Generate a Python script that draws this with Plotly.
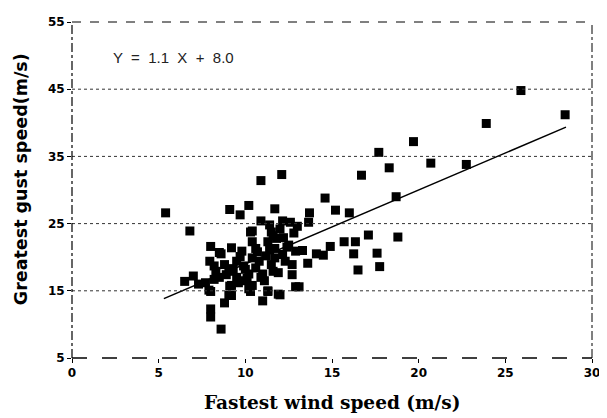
import plotly.graph_objects as go

# Scatter data (fastest wind speed, greatest gust speed)
fastest = [5.4, 6.8, 6.5, 7.0, 7.3, 8.0, 8.6, 9.2, 9.1, 9.7, 10.2, 10.9, 12.1, 11.7, 10.9, 10.4,
           8.0, 8.0, 8.6, 8.8, 9.2, 9.1, 8.0, 10.3, 11.0, 11.3, 12.0,
           25.9, 28.45, 23.9, 19.7, 17.7, 20.7, 22.75, 18.3, 16.7, 18.7, 14.6, 18.8, 17.1,
           16.35, 15.7, 15.2, 16.0, 17.6, 17.75, 16.5, 16.25, 14.9, 14.5, 14.1, 13.6, 13.7,
           13.65, 13.0, 12.8, 12.9, 12.7, 12.7, 12.9, 13.1, 11.6, 12.15, 12.6, 10.3, 11.5,
           12.0, 10.4, 11.3, 11.7, 12.15, 12.5, 8.5, 7.95, 8.2, 8.3, 8.5, 8.2, 7.7, 7.9,
           8.8, 9.05, 9.2, 9.05, 9.5, 9.7, 9.9, 10.2, 10.4, 10.6, 10.8, 11.0, 11.1, 11.5,
           11.6, 11.7, 10.4, 10.2, 9.5, 9.6, 9.9, 11.3, 11.9, 12.3, 11.9, 11.4, 10.0, 10.7,
           11.2, 9.3, 10.1, 10.9, 11.8, 12.4, 13.3, 9.8, 8.9, 10.6, 11.4, 12.2]
greatest = [26.6, 23.9, 16.4, 17.2, 16.0, 21.6, 20.5, 21.4, 27.1, 26.3, 27.7, 31.4, 32.3, 27.2, 25.4, 23.9,
            12.3, 11.1, 9.3, 13.2, 14.3, 15.7, 14.9, 14.9, 13.5, 14.9, 14.4,
            44.8, 41.2, 39.9, 37.2, 35.6, 34.0, 33.8, 33.3, 32.2, 29.0, 28.8, 23.0, 23.3,
            22.3, 22.3, 27.0, 26.6, 20.6, 18.6, 18.1, 20.5, 21.6, 20.3, 20.5, 19.1, 26.6,
            25.2, 24.6, 23.6, 20.9, 18.9, 17.4, 15.6, 15.6, 23.2, 25.4, 25.2, 23.75, 23.75,
            24.2, 22.3, 22.3, 21.3, 20.4, 21.8, 20.7, 19.4, 18.7, 17.9, 17.0, 16.7, 16.2, 15.1,
            18.9, 17.9, 15.8, 14.3, 19.4, 20.1, 18.7, 17.5, 19.9, 18.4, 19.4, 17.5, 16.5, 18.9,
            17.9, 19.9, 15.8, 15.3, 17.0, 16.2, 16.5, 15.0, 14.5, 19.4, 17.7, 21.1, 18.2, 20.8,
            20.2, 18.3, 16.9, 17.0, 22.8, 21.5, 21.0, 20.9, 17.4, 21.3, 24.8, 22.9]

slope = 1.1
intercept = 8.0
line_x = [5.3, 28.5]
line_y = [slope * v + intercept for v in line_x]

x_ticks = [0, 5, 10, 15, 20, 25, 30]
y_ticks = [5, 15, 25, 35, 45, 55]

fig = go.Figure()
fig.add_trace(go.Scatter(x=fastest, y=greatest, mode="markers",
                         marker=dict(symbol="square", size=9, color="black"),
                         showlegend=False, hoverinfo="skip"))
fig.add_trace(go.Scatter(x=line_x, y=line_y, mode="lines",
                         line=dict(color="black", width=1.5),
                         showlegend=False, hoverinfo="skip"))

tickfont = dict(family="DejaVu Sans", size=12, color="black", weight="bold")
fig.update_xaxes(range=[0, 30], tickvals=x_ticks, ticktext=[str(v) for v in x_ticks],
                 showgrid=False, zeroline=False, showline=False,
                 ticks="outside", ticklen=4, tickcolor="black", tickfont=tickfont)
fig.update_yaxes(range=[5, 55], tickvals=y_ticks, ticktext=[str(v) for v in y_ticks],
                 showgrid=False, zeroline=False, showline=False,
                 ticks="outside", ticklen=4, tickcolor="black", tickfont=tickfont)

shapes = []
# dotted grid lines
for v in [15, 25, 35, 45]:
    shapes.append(dict(type="line", xref="paper", yref="y", x0=0, x1=1, y0=v, y1=v,
                       line=dict(color="#333", width=1, dash="dot")))
# frame
shapes.append(dict(type="line", xref="paper", yref="paper", x0=0, x1=1, y0=0, y1=0,
                   line=dict(color="black", width=1.5, dash="longdash")))
shapes.append(dict(type="line", xref="paper", yref="paper", x0=0, x1=0, y0=0, y1=1,
                   line=dict(color="black", width=1.2, dash="dashdot")))
shapes.append(dict(type="line", xref="paper", yref="paper", x0=0, x1=1, y0=1, y1=1,
                   line=dict(color="black", width=1, dash="dash")))
shapes.append(dict(type="line", xref="paper", yref="paper", x0=1, x1=1, y0=0, y1=1,
                   line=dict(color="black", width=1, dash="dashdot")))

annotations = [
    dict(text="Y  =  1.1  X  +  8.0", x=2.25, y=49.7, xref="x", yref="y", xanchor="left",
         yanchor="middle", showarrow=False,
         font=dict(family="Liberation Sans", size=15, color="#222")),
    dict(text="Fastest wind speed (m/s)", x=0.5, y=-0.131, xref="paper", yref="paper",
         xanchor="center", yanchor="middle", showarrow=False,
         font=dict(family="DejaVu Serif", size=18.5, color="black", weight="bold")),
    dict(text="Greatest gust speed(m/s)", x=-0.1219, y=0.531, xref="paper", yref="paper",
         xanchor="left", yanchor="middle", textangle=-90, showarrow=False,
         font=dict(family="DejaVu Sans", size=17.5, color="black", weight="bold")),
]

# the page body adds an 8px margin, so the figure is 8px smaller than the window
fig.update_layout(width=599, height=410, margin=dict(l=64, r=10, t=7, b=60),
                  plot_bgcolor="white", paper_bgcolor="white",
                  shapes=shapes, annotations=annotations)

fig.write_html("out.html")
